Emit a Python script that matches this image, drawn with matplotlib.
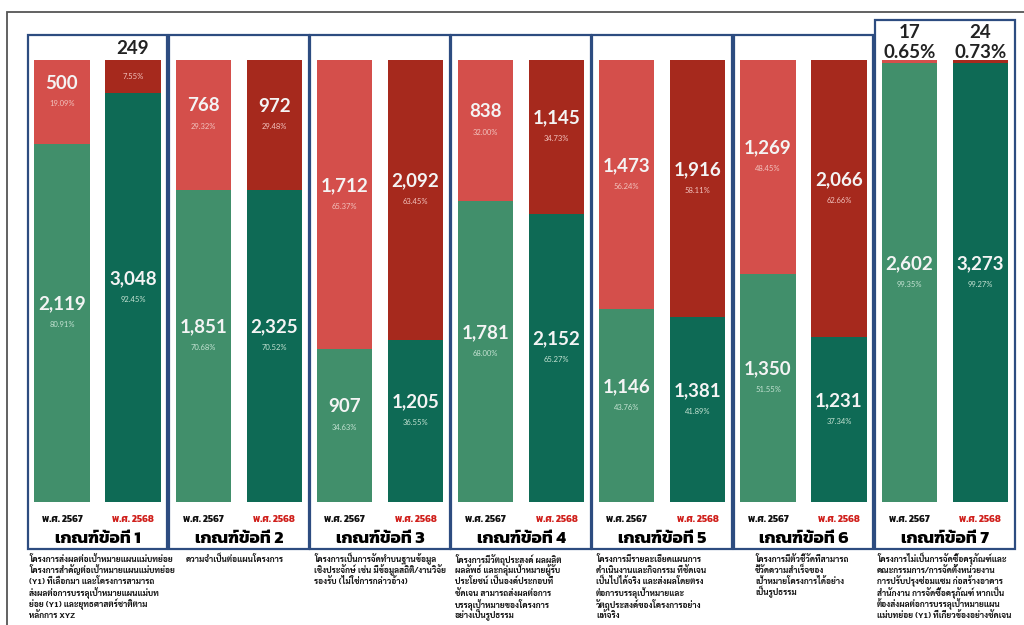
import numpy as np
import matplotlib
matplotlib.use('Agg')
import matplotlib.pyplot as plt
from matplotlib.patches import Rectangle

# Data: project counts per criterion (green = pass, red = not pass)
criteria = ['เกณฑ์ข้อที่ 1', 'เกณฑ์ข้อที่ 2', 'เกณฑ์ข้อที่ 3', 'เกณฑ์ข้อที่ 4',
            'เกณฑ์ข้อที่ 5', 'เกณฑ์ข้อที่ 6', 'เกณฑ์ข้อที่ 7']
years = ['พ.ศ. 2567', 'พ.ศ. 2568']
green_2567 = np.array([2119, 1851, 907, 1781, 1146, 1350, 2602])
red_2567 = np.array([500, 768, 1712, 838, 1473, 1269, 17])
green_2568 = np.array([3048, 2325, 1205, 2152, 1381, 1231, 3273])
red_2568 = np.array([249, 972, 2092, 1145, 1916, 2066, 24])

descriptions = [
    'โครงการส่งผลต่อเป้าหมายแผนแม่บทย่อย\nโครงการสำคัญต่อเป้าหมายแผนแม่บทย่อย\n(Y1) ที่เลือกมา และโครงการสามารถ\nส่งผลต่อการบรรลุเป้าหมายแผนแม่บท\nย่อย (Y1) และยุทธศาสตร์ชาติตาม\nหลักการ XYZ',
    'ความจำเป็นต่อแผนโครงการ',
    'โครงการเป็นการจัดทำบนฐานข้อมูล\nเชิงประจักษ์ เช่น มีข้อมูลสถิติ/งานวิจัย\nรองรับ (ไม่ใช่การกล่าวอ้าง)',
    'โครงการมีวัตถุประสงค์ ผลผลิต\nผลลัพธ์ และกลุ่มเป้าหมายผู้รับ\nประโยชน์ เป็นองค์ประกอบที่\nชัดเจน สามารถส่งผลต่อการ\nบรรลุเป้าหมายของโครงการ\nอย่างเป็นรูปธรรม',
    'โครงการมีรายละเอียดแผนการ\nดำเนินงานและกิจกรรม ที่ชัดเจน\nเป็นไปได้จริง และส่งผลโดยตรง\nต่อการบรรลุเป้าหมายและ\nวัตถุประสงค์ของโครงการอย่าง\nแท้จริง',
    'โครงการมีตัวชี้วัดที่สามารถ\nชี้วัดความสำเร็จของ\nเป้าหมายโครงการได้อย่าง\nเป็นรูปธรรม',
    'โครงการไม่เป็นการจัดซื้อครุภัณฑ์และ\nคณะกรรมการ/การจัดตั้งหน่วยงาน\nการปรับปรุงซ่อมแซม ก่อสร้างอาคาร\nสำนักงาน การจัดซื้อครุภัณฑ์ หากเป็น\nต้องส่งผลต่อการบรรลุเป้าหมายแผน\nแม่บทย่อย (Y1) ที่เกี่ยวข้องอย่างชัดเจน',
]

# colours
c_red1, c_red2 = '#d44f4b', '#a6291d'
c_green1, c_green2 = '#418f6b', '#0e6a55'
box_col = '#2d4c80'

thai_head = ['Kanit', 'Prompt', 'Bai Jamjuree', 'DejaVu Sans']
thai_body = ['Sarabun', 'Noto Sans Thai', 'Bai Jamjuree', 'DejaVu Sans']
num_font = ['Lato', 'DejaVu Sans']

# pixel -> data helpers for the layout
X0, UX = 97.5, 141.2
Y0, UY = 502.0, 4.42
def px_x(p):
    return (p - X0) / UX
def px_y(p):
    return (Y0 - p) / UY

fig = plt.figure(figsize=(10.24, 6.25), dpi=100)
ax = fig.add_axes([0, 0, 1, 1])
ax.set_xlim(px_x(0), px_x(1024))
ax.set_ylim(px_y(625), px_y(0))
ax.axis('off')

x = np.arange(len(criteria))
off, w = 0.2515, 0.39

series = [
    (x - off, green_2567, red_2567, c_green1, c_red1),
    (x + off, green_2568, red_2568, c_green2, c_red2),
]

for xs, g, r, cg, cr in series:
    tot = g + r
    gp = g / tot * 100
    rp = r / tot * 100
    ax.bar(xs, gp, width=w, color=cg, zorder=2)
    ax.bar(xs, rp, width=w, bottom=gp, color=cr, zorder=2)
    for xi, gv, rv, gpi, rpi in zip(xs, g, r, gp, rp):
        # green segment labels
        mid = gpi / 2
        ax.text(xi, mid + 4.3, f'{gv:,}', ha='center', va='center', color='#f4f4f4',
                fontsize=13.5, fontweight='bold', family=num_font, zorder=3)
        ax.text(xi, mid - 0.4, f'{gpi:.2f}%', ha='center', va='center', color='#c4e2d2',
                fontsize=5.5, family=num_font, zorder=3)
        # red segment labels
        mid = gpi + rpi / 2
        if rpi < 2:
            ax.text(xi, px_y(33), f'{rv:,}', ha='center', va='center', color='#222222',
                    fontsize=13.5, fontweight='bold', family=num_font, zorder=3)
            ax.text(xi, px_y(53), f'{rpi:.2f}%', ha='center', va='center', color='#222222',
                    fontsize=13.5, fontweight='bold', family=num_font, zorder=3)
        elif rpi < 10:
            ax.text(xi, px_y(49), f'{rv:,}', ha='center', va='center', color='#222222',
                    fontsize=13.5, fontweight='bold', family=num_font, zorder=3)
            ax.text(xi, mid, f'{rpi:.2f}%', ha='center', va='center', color='#f2c2bd',
                    fontsize=5.5, family=num_font, zorder=3)
        else:
            ax.text(xi, mid + 4.3, f'{rv:,}', ha='center', va='center', color='#f4f4f4',
                    fontsize=13.5, fontweight='bold', family=num_font, zorder=3)
            ax.text(xi, mid - 0.4, f'{rpi:.2f}%', ha='center', va='center', color='#f2c2bd',
                    fontsize=5.5, family=num_font, zorder=3)

# year labels under each bar
for xs, col, lab in [(x - off, '#111111', years[0]), (x + off, '#d0201c', years[1])]:
    for xi in xs:
        ax.text(xi, px_y(519), lab, ha='center', va='center', color=col,
                fontsize=7, fontweight='bold', family=thai_head)

# boxes around each criterion
for i in x:
    top = px_y(20) if i == 6 else px_y(35)
    bottom = px_y(549)
    ax.add_patch(Rectangle((i - 0.495, bottom), 0.99, top - bottom, fill=False,
                           edgecolor=box_col, linewidth=1.6, zorder=1))
    ax.text(i, px_y(539), criteria[i], ha='center', va='center', color='black',
            fontsize=12.5, fontweight='bold', family=thai_head)

# descriptions below the boxes, one line at a time so spacing stays even
desc_x = [29, 186, 314, 455, 596, 755, 877]
for px, d in zip(desc_x, descriptions):
    for k, line in enumerate(d.split('\n')):
        ax.text(px_x(px), px_y(562 + 11.2 * k), line, ha='left', va='baseline',
                color='#111111', fontsize=6, fontweight='bold', family=thai_body)

# outer frame
ax.add_patch(Rectangle((px_x(7), px_y(640)), px_x(1030) - px_x(7), px_y(12) - px_y(640),
                       fill=False, edgecolor='#555555', linewidth=1.3, clip_on=False))

fig.savefig('out.png', dpi=100)
